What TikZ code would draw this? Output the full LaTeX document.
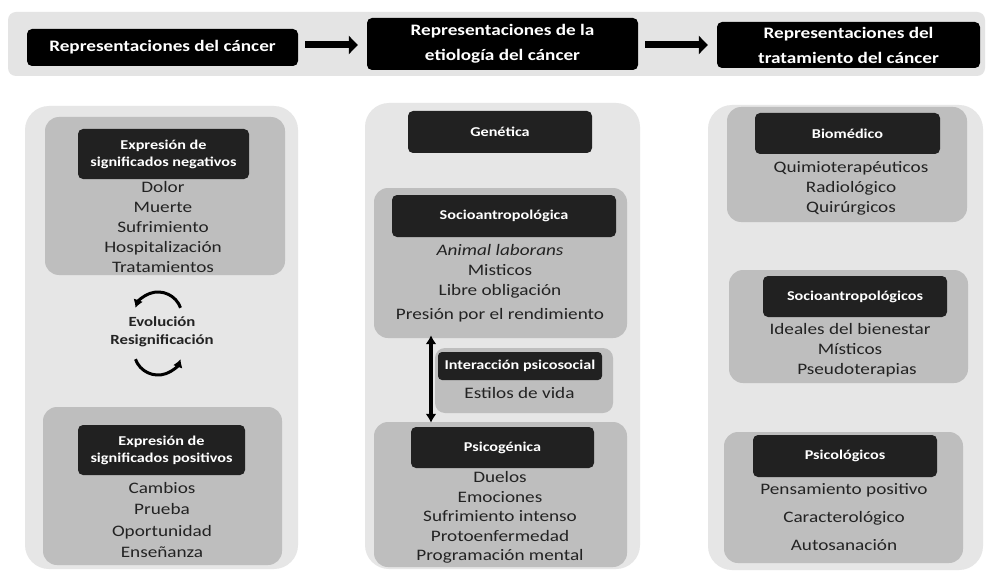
\documentclass[tikz,border=0pt]{standalone}
\usepackage{fontspec}
\setmainfont{Carlito}[FakeStretch=1.2]
\usetikzlibrary{arrows.meta,calc}
\definecolor{bandg}{RGB}{228,228,228}
\definecolor{outerg}{RGB}{230,230,230}
\definecolor{innerg}{RGB}{190,190,190}
\definecolor{hdrc}{RGB}{33,33,33}
\definecolor{txtc}{RGB}{35,35,35}
\begin{document}
\begin{tikzpicture}[x=1pt,y=-1pt,
  band/.style={fill=bandg, rounded corners=8pt, inner sep=0pt},
  panel/.style={fill=outerg, rounded corners=24pt, inner sep=0pt},
  inbox/.style={fill=innerg, rounded corners=14pt, inner sep=0pt},
  hdr/.style={fill=hdrc, rounded corners=5pt, text=white, font=\bfseries\fontsize{13.5}{17}\selectfont, align=center, inner sep=0pt},
  topbox/.style={fill=black, rounded corners=5pt, text=white, font=\bfseries\fontsize{16}{25}\selectfont, align=center, inner sep=0pt},
  lst/.style={text=txtc, font=\fontsize{16}{20}\selectfont, align=center, inner sep=0pt},
  cyctxt/.style={text=txtc, font=\bfseries\fontsize{14}{18}\selectfont, align=center, inner sep=0pt},
  bigarrow/.style={line width=7pt, -{Triangle[length=9pt,width=18pt]}},
  dblarrow/.style={line width=3.8pt, {Latex[length=9pt,width=11pt]}-{Latex[length=9pt,width=11pt]}},
  cycarrow/.style={line width=3pt, -{Latex[length=8pt,width=10pt]}},
]
\useasboundingbox (0,0) rectangle (992,572);
\fill[white] (0,0) rectangle (992,572);

% top band
\node[band, minimum width=977, minimum height=64] (band) at (496.5,44) {};
\node[topbox, minimum width=271, minimum height=37] (b1) at (162.5,47.5) {Representaciones del cáncer};
\node[topbox, minimum width=271, minimum height=52] (b2) at (502.5,44) {Representaciones de la\\etiología del cáncer};
\node[topbox, minimum width=263, minimum height=46] (b3) at (848.5,45) {Representaciones del\\tratamiento del cáncer};
\coordinate (ay) at (0,45);
\draw[bigarrow] ([xshift=7pt]b1.east |- ay) -- ([xshift=-9pt]b2.west |- ay);
\draw[bigarrow] ([xshift=7pt]b2.east |- ay) -- ([xshift=-9pt]b3.west |- ay);

% left column
\node[panel, minimum width=273, minimum height=463] (lp) at (161.5,337.5) {};
\node[inbox, minimum width=240, minimum height=158] (ln) at (165,196) {};
\node[hdr, minimum width=171, minimum height=50] (lnh) at (163.5,154) {Expresión de\\significados negativos};
\node[lst] (lnl) at (163,227) {Dolor\\Muerte\\Sufrimiento\\Hospitalización\\Tratamientos};
\node[cyctxt] (cyc) at (162,332) {Evolución\\Resignificación};
\coordinate (cu) at (158,316);
\coordinate (cl) at (158,351);
\draw[cycarrow] ($(cu)+(-20:24)$) arc[start angle=-20, end angle=-160, radius=24];
\draw[cycarrow] ($(cl)+(160:24)$) arc[start angle=160, end angle=20, radius=24];
\node[inbox, minimum width=239, minimum height=158] (lpo) at (162.5,486) {};
\node[hdr, minimum width=167, minimum height=50] (lph) at (161.5,450) {Expresión de\\significados positivos};
\node[lst, font=\fontsize{16}{21.3}\selectfont] (lpl) at (162,520) {Cambios\\Prueba\\Oportunidad\\Enseñanza};

% middle column
\node[panel, minimum width=275, minimum height=466] (mp) at (502.5,336) {};
\node[hdr, minimum width=184, minimum height=42] (gen) at (500,132) {Genética};
\node[inbox, minimum width=253, minimum height=150] (ms) at (500.5,263) {};
\node[hdr, minimum width=224, minimum height=42] (msh) at (504,216) {Socioantropológica};
\node[lst] (msl) at (500,283) {\textit{Animal laborans}\\Misticos\\Libre obligación\\[4pt]Presión por el rendimiento};
\node[inbox, rounded corners=10pt, minimum width=178, minimum height=65] (mi) at (524,380.5) {};
\node[hdr, rounded corners=4pt, minimum width=164, minimum height=28] (mih) at (520,366) {Interacción psicosocial};
\node[lst] (mil) at (519.5,393) {Estilos de vida};
\node[inbox, minimum width=253, minimum height=145] (mpg) at (500.5,494.5) {};
\node[hdr, minimum width=183, minimum height=41] (mpgh) at (502.5,447.5) {Psicogénica};
\node[lst, font=\fontsize{16}{19.5}\selectfont] (mpgl) at (500,517.5) {Duelos\\Emociones\\Sufrimiento intenso\\Protoenfermedad\\Programación mental};
\coordinate (dx) at (431,0);
\draw[dblarrow] ([yshift=3pt]ms.south -| dx) -- ([yshift=-1pt]mpg.north -| dx);

% right column
\node[panel, minimum width=275, minimum height=465] (rp) at (845.5,337.5) {};
\node[inbox, minimum width=240, minimum height=115] (rb) at (847,164.5) {};
\node[hdr, minimum width=185, minimum height=41] (rbh) at (847.5,133.5) {Biomédico};
\node[lst] (rbl) at (851,188.5) {Quimioterapéuticos\\Radiológico\\Quirúrgicos};
\node[inbox, minimum width=239, minimum height=113] (rs) at (848.5,326.5) {};
\node[hdr, minimum width=184, minimum height=41] (rsh) at (855,296.5) {Socioantropológicos};
\node[lst] (rsl) at (850,350.5) {Ideales del bienestar\\Místicos\\\hspace*{14pt}Pseudoterapias};
\node[inbox, minimum width=239, minimum height=131] (rpq) at (843.5,497.5) {};
\node[hdr, minimum width=184, minimum height=42] (rpqh) at (845,456) {Psicológicos};
\node[lst, font=\fontsize{16}{28}\selectfont] (rpql) at (844,517.5) {Pensamiento positivo\\Caracterológico\\Autosanación};
\end{tikzpicture}
\end{document}
